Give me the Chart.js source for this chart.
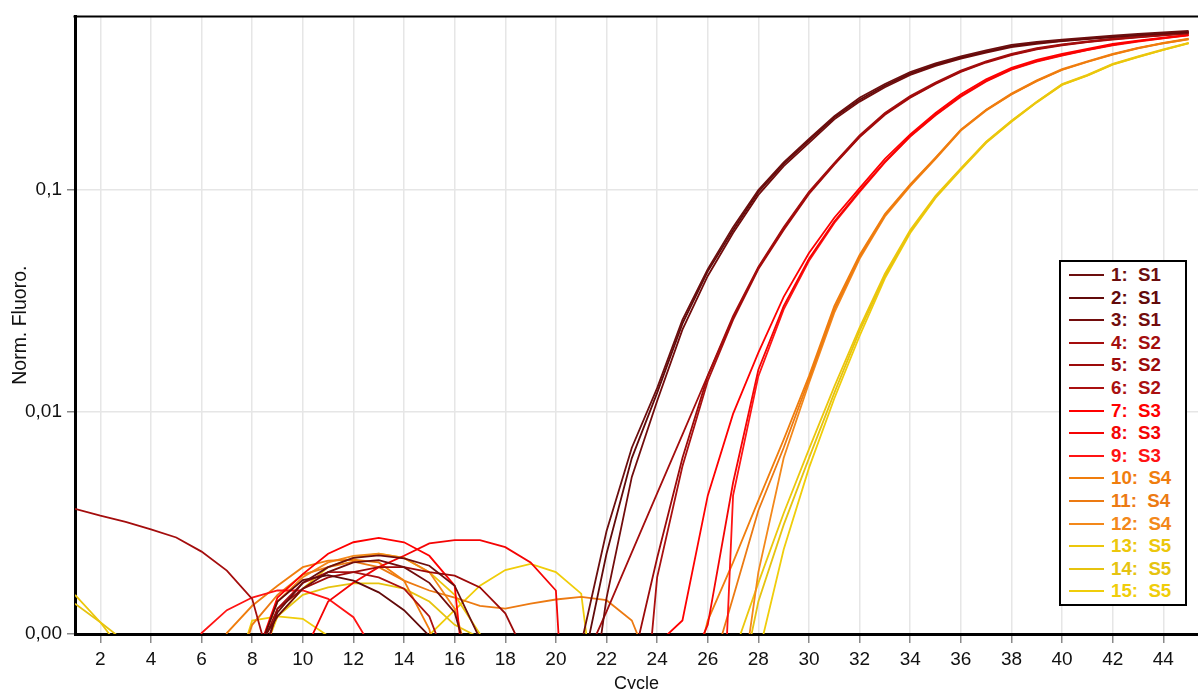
<!DOCTYPE html>
<html><head><meta charset="utf-8">
<script src="https://cdn.jsdelivr.net/npm/chart.js@4.4.1/dist/chart.umd.min.js"></script>
<style>
html,body{margin:0;padding:0;background:#fff;}
#wrap{position:relative;width:1198px;height:689px;overflow:hidden;}
#legend{position:absolute;left:1059px;top:260px;width:124px;height:340px;border:2px solid #000;background:#fff;padding:2px 0 0 0;font:bold 18.7px "Liberation Sans",Arial,sans-serif;}
.row{height:22.6px;line-height:22.6px;white-space:pre;position:relative;}
.sw{position:absolute;left:8px;top:10px;width:35px;height:2px;}
.tx{position:absolute;left:50px;top:0;}
</style></head>
<body><div id="wrap"><canvas id="c" width="1198" height="689"></canvas><div id="legend"></div></div>
<script>
const cycles = [1,2,3,4,5,6,7,8,9,10,11,12,13,14,15,16,17,18,19,20,21,22,23,24,25,26,27,28,29,30,31,32,33,34,35,36,37,38,39,40,41,42,43,44,45];

const curve1 = [0.0004,0.0004,0.0004,0.0004,0.0004,0.0004,0.0004,0.0006,0.00125,0.0017,0.002,0.0022,0.00226,0.00219,0.00203,0.00165,0.00095,0.0004,0.0004,0.0004,0.0009,0.0029,0.0069,0.0128,0.026,0.044,0.068,0.100,0.133,0.170,0.215,0.26,0.30,0.34,0.372,0.40,0.425,0.45,0.465,0.475,0.485,0.495,0.505,0.512,0.52];
const curve2 = [0.0004,0.0004,0.0004,0.0004,0.0004,0.0004,0.0004,0.0007,0.0014,0.00175,0.00184,0.00174,0.00154,0.00128,0.00098,0.0004,0.0004,0.0004,0.0004,0.0004,0.00066,0.0023,0.0062,0.0122,0.025,0.043,0.066,0.098,0.131,0.167,0.212,0.255,0.295,0.335,0.367,0.395,0.42,0.445,0.46,0.47,0.48,0.49,0.50,0.508,0.515];
const curve3 = [0.0004,0.0004,0.0004,0.0004,0.0004,0.0004,0.0004,0.0008,0.0012,0.0016,0.0019,0.0021,0.00215,0.0020,0.0017,0.00125,0.0005,0.0004,0.0004,0.0004,0.00023,0.00145,0.0051,0.0112,0.0235,0.041,0.064,0.095,0.128,0.163,0.208,0.25,0.29,0.33,0.362,0.39,0.415,0.44,0.455,0.468,0.478,0.488,0.497,0.505,0.512];
const curve4 = [0.00366,0.00341,0.0032,0.00296,0.00272,0.00235,0.00193,0.00144,0.00056,0.0004,0.0004,0.0004,0.0004,0.0004,0.0004,0.0004,0.0004,0.0004,0.0004,0.0004,0.0007,0.00126,0.00233,0.0043,0.0079,0.0146,0.027,0.045,0.068,0.098,0.132,0.176,0.222,0.265,0.305,0.345,0.38,0.41,0.435,0.452,0.467,0.48,0.49,0.50,0.51];
const curve5 = [0.0004,0.0004,0.0004,0.0004,0.0004,0.0004,0.0004,0.0007,0.0013,0.0016,0.0018,0.0019,0.002,0.002,0.0019,0.00183,0.00162,0.00124,0.00072,0.0004,0.0004,0.0004,0.00071,0.0022,0.0062,0.0145,0.0265,0.0445,0.067,0.097,0.131,0.174,0.22,0.262,0.302,0.342,0.377,0.407,0.432,0.45,0.465,0.478,0.488,0.498,0.508];
const curve6 = [0.0004,0.0004,0.0004,0.0004,0.0004,0.0004,0.0004,0.0005,0.0013,0.0017,0.0019,0.0019,0.0018,0.0016,0.0012,0.0006,0.0004,0.0004,0.0004,0.0004,0.0004,0.0004,0.0001,0.0018,0.0057,0.0138,0.026,0.044,0.066,0.096,0.13,0.173,0.218,0.26,0.3,0.34,0.375,0.405,0.43,0.448,0.463,0.476,0.487,0.497,0.507];
const curve7 = [0.0004,0.0004,0.0004,0.0004,0.0004,0.0004,0.0004,0.0007,0.00146,0.00186,0.0023,0.00259,0.00271,0.00259,0.00225,0.00165,0.000135,0.0002,0.0002,0.0002,0.0002,0.0002,0.0002,0.0009,0.00115,0.0042,0.0098,0.0185,0.033,0.052,0.075,0.102,0.138,0.178,0.222,0.27,0.315,0.355,0.385,0.41,0.432,0.455,0.47,0.485,0.5];
const curve8 = [0.0004,0.0004,0.0004,0.0004,0.0004,0.0004,0.0004,0.0004,0.0004,0.0008,0.0014,0.0017,0.002,0.00225,0.00256,0.00265,0.00265,0.00246,0.0021,0.00157,0.00002,0.0003,0.0003,0.0003,0.0006,0.0011,0.0048,0.0155,0.03,0.049,0.072,0.099,0.134,0.175,0.218,0.265,0.31,0.35,0.38,0.405,0.428,0.45,0.468,0.483,0.498];
const curve9 = [0.0003,0.0003,0.0003,0.0003,0.0003,0.00101,0.00128,0.00146,0.00157,0.00157,0.00144,0.00119,0.00077,0.0002,0.0002,0.0002,0.0002,0.0002,0.0002,0.0002,0.0002,0.0002,0.0002,0.0002,0.0002,0.00001,0.0042,0.0145,0.029,0.048,0.071,0.098,0.133,0.174,0.217,0.263,0.308,0.348,0.378,0.403,0.426,0.448,0.466,0.482,0.497];
const curve10 = [0.0003,0.0003,0.0003,0.0003,0.0003,0.0003,0.00101,0.00134,0.00165,0.002,0.00214,0.00216,0.0021,0.00174,0.00105,0.0003,0.0003,0.0003,0.0003,0.0003,0.0003,0.0003,0.0003,0.0003,0.0004,0.00115,0.0021,0.004,0.0075,0.0145,0.03,0.051,0.078,0.106,0.14,0.187,0.23,0.272,0.312,0.35,0.38,0.41,0.437,0.46,0.48];
const curve11 = [0.0003,0.0003,0.0003,0.0003,0.0003,0.0003,0.0005,0.0011,0.0015,0.00185,0.002,0.00212,0.002,0.00174,0.00157,0.00146,0.00134,0.0013,0.00137,0.00143,0.00147,0.00142,0.00115,0.0006,0.0003,0.0006,0.00146,0.0036,0.0069,0.014,0.029,0.05,0.077,0.105,0.139,0.186,0.229,0.27,0.31,0.348,0.378,0.408,0.435,0.458,0.478];
const curve12 = [0.0003,0.0003,0.0003,0.0003,0.0003,0.0003,0.0003,0.0007,0.0014,0.0018,0.0021,0.00225,0.0023,0.0022,0.0019,0.0013,0.0005,0.0003,0.0003,0.0003,0.0003,0.0003,0.0003,0.0003,0.0003,0.0003,0.0003,0.0019,0.0062,0.0135,0.028,0.049,0.076,0.104,0.138,0.185,0.228,0.269,0.309,0.347,0.377,0.407,0.434,0.457,0.477];
const curve13 = [0.0015,0.00113,0.0008,0.0003,0.0003,0.0003,0.0003,0.0006,0.0012,0.0016,0.002,0.0022,0.0023,0.0022,0.0019,0.0015,0.001,0.0003,0.0003,0.0003,0.0003,0.0003,0.0003,0.0003,0.0003,0.0003,0.0008,0.0017,0.0035,0.0068,0.013,0.024,0.042,0.066,0.094,0.125,0.165,0.205,0.25,0.30,0.33,0.37,0.40,0.43,0.46];
const curve14 = [0.00137,0.00113,0.00092,0.0003,0.0003,0.0003,0.0003,0.0008,0.0012,0.0015,0.00162,0.00169,0.00169,0.0016,0.0014,0.0011,0.00096,0.0003,0.0003,0.0003,0.0003,0.0003,0.0003,0.0003,0.0003,0.0003,0.0004,0.0014,0.0031,0.0062,0.0122,0.0232,0.041,0.065,0.093,0.124,0.164,0.204,0.249,0.298,0.328,0.368,0.398,0.428,0.458];
const curve15 = [0.0003,0.0003,0.0003,0.0003,0.0003,0.0003,0.0005,0.00115,0.0012,0.00117,0.00098,0.0003,0.0003,0.0003,0.00099,0.00128,0.00165,0.00194,0.00207,0.0019,0.00152,0.00019,0.0003,0.0003,0.0003,0.0003,0.0003,0.0008,0.0024,0.0056,0.0115,0.022,0.04,0.064,0.092,0.123,0.163,0.203,0.248,0.297,0.327,0.367,0.397,0.427,0.457];

const seriesValues = [curve1,curve2,curve3,curve4,curve5,curve6,curve7,curve8,curve9,curve10,curve11,curve12,curve13,curve14,curve15];
const seriesLabels = ["1:  S1","2:  S1","3:  S1","4:  S2","5:  S2","6:  S2","7:  S3","8:  S3","9:  S3","10:  S4","11:  S4","12:  S4","13:  S5","14:  S5","15:  S5"];
const seriesColors = ["#6c0e0e","#620a0a","#720c0c","#a40d0d","#9c0a0a","#aa1010","#ff0000","#f40404","#ff1414","#f07d0d","#ec7a12","#f3881a","#ecc70c","#e6c30f","#f0cd0a"];

const xTickValues = [2,4,6,8,10,12,14,16,18,20,22,24,26,28,30,32,34,36,38,40,42,44];
const yTickValues = [0.001,0.01,0.1];
const yTickLabels = ["0,00","0,01","0,1"];
const xTitle = "Cycle";
const yTitle = "Norm. Fluoro.";

const FONT = '"Liberation Sans", Arial, sans-serif';

const datasets = seriesValues.map((vals, i) => ({
  label: seriesLabels[i],
  data: vals.map((v, j) => ({x: cycles[j], y: v})),
  borderColor: seriesColors[i],
  backgroundColor: seriesColors[i],
  borderWidth: 1.8,
  pointRadius: 0,
  tension: 0,
  fill: false
}));

const frameTop = {
  id: 'frameTop',
  afterDraw(chart) {
    const {ctx, chartArea} = chart;
    ctx.save();
    ctx.strokeStyle = '#000';
    ctx.lineWidth = 2;
    ctx.beginPath();
    ctx.moveTo(chartArea.left - 1.5, chartArea.top);
    ctx.lineTo(chartArea.right, chartArea.top);
    ctx.stroke();
    ctx.restore();
  }
};

new Chart(document.getElementById('c'), {
  type: 'line',
  data: {datasets},
  options: {
    responsive: false,
    devicePixelRatio: 1,
    animation: false,
    layout: {padding: {top: 15, left: 0, right: 0, bottom: 0}},
    plugins: {legend: {display: false}, tooltip: {enabled: false}},
    scales: {
      x: {
        type: 'linear',
        min: 1,
        max: 45.37,
        afterFit(scale) { scale.height = 55; },
        afterBuildTicks(scale) { scale.ticks = xTickValues.map(v => ({value: v})); },
        ticks: {
          autoSkip: false, maxRotation: 0, padding: 5, color: '#111',
          font: {family: FONT, size: 19},
          callback: (v) => String(v)
        },
        grid: {color: '#e6e6e6', lineWidth: 1.5, tickColor: '#8a8a8a', tickLength: 9, tickWidth: 1.5},
        border: {display: true, color: '#000', width: 3},
        title: {display: true, text: xTitle, color: '#111', font: {family: FONT, size: 18}, padding: {top: 0, bottom: -6}}
      },
      y: {
        type: 'logarithmic',
        min: 0.001,
        max: 0.605,
        afterFit(scale) { scale.width = 75; },
        afterBuildTicks(scale) { scale.ticks = yTickValues.map(v => ({value: v})); },
        ticks: {
          padding: 5, color: '#111',
          font: {family: FONT, size: 19},
          callback: (v, i) => yTickLabels[i]
        },
        grid: {color: (c) => (c.tick && c.tick.value === 0.001) ? 'rgba(0,0,0,0)' : '#e6e6e6', lineWidth: 1.5, tickColor: '#8a8a8a', tickLength: 8, tickWidth: 1.5},
        border: {display: true, color: '#000', width: 3},
        title: {display: true, text: yTitle, color: '#111', font: {family: FONT, size: 19.5}, padding: {top: 9, bottom: 0}}
      }
    }
  },
  plugins: [frameTop]
});

const lg = document.getElementById('legend');
seriesLabels.forEach((t, i) => {
  const r = document.createElement('div');
  r.className = 'row';
  const s = document.createElement('div');
  s.className = 'sw';
  s.style.background = seriesColors[i];
  const tx = document.createElement('span');
  tx.className = 'tx';
  tx.style.color = seriesColors[i];
  tx.textContent = t;
  r.appendChild(s); r.appendChild(tx);
  lg.appendChild(r);
});
</script>
</body></html>
